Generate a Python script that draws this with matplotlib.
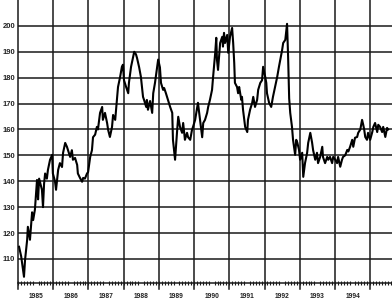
import numpy as np
import matplotlib
matplotlib.use('Agg')
import matplotlib.pyplot as plt

plt.rcParams['font.family'] = ['Liberation Sans', 'DejaVu Sans']

# decimal year / index level
years = [1985.03, 1985.09, 1985.17, 1985.20, 1985.26, 1985.28, 1985.34, 1985.40, 1985.43, 1985.48,
         1985.54, 1985.57, 1985.60, 1985.68, 1985.71, 1985.74, 1985.77, 1985.82, 1985.85, 1985.91,
         1985.97, 1985.99, 1986.05, 1986.08, 1986.14, 1986.19, 1986.25, 1986.28, 1986.34, 1986.39,
         1986.42, 1986.48, 1986.53, 1986.56, 1986.62, 1986.68, 1986.70, 1986.76, 1986.82, 1986.85,
         1986.90, 1986.96, 1986.99, 1987.05, 1987.10, 1987.13, 1987.19, 1987.24, 1987.27, 1987.33,
         1987.39, 1987.41, 1987.47, 1987.53, 1987.56, 1987.61, 1987.67, 1987.70, 1987.76, 1987.81,
         1987.84, 1987.90, 1987.95, 1987.98, 1988.01, 1988.07, 1988.13, 1988.15, 1988.21, 1988.27,
         1988.30, 1988.35, 1988.38, 1988.44, 1988.49, 1988.55, 1988.58, 1988.64, 1988.66, 1988.69,
         1988.75, 1988.81, 1988.84, 1988.89, 1988.95, 1988.98, 1989.03, 1989.06, 1989.12, 1989.15,
         1989.20, 1989.26, 1989.32, 1989.38, 1989.40, 1989.46, 1989.52, 1989.55, 1989.60, 1989.66,
         1989.69, 1989.74, 1989.80, 1989.83, 1989.89, 1989.94, 1989.97, 1990.03, 1990.09, 1990.11,
         1990.17, 1990.23, 1990.26, 1990.31, 1990.37, 1990.40, 1990.45, 1990.51, 1990.54, 1990.60,
         1990.63, 1990.65, 1990.68, 1990.74, 1990.80, 1990.82, 1990.85, 1990.88, 1990.94, 1990.97,
         1991.02, 1991.08, 1991.11, 1991.14, 1991.16, 1991.22, 1991.25, 1991.28, 1991.34, 1991.36,
         1991.39, 1991.45, 1991.51, 1991.53, 1991.59, 1991.65, 1991.68, 1991.73, 1991.79, 1991.82,
         1991.88, 1991.93, 1991.96, 1992.02, 1992.05, 1992.07, 1992.13, 1992.19, 1992.24, 1992.30,
         1992.36, 1992.41, 1992.50, 1992.53, 1992.59, 1992.64, 1992.67, 1992.70, 1992.73, 1992.78,
         1992.81, 1992.87, 1992.90, 1992.93, 1992.98, 1993.01, 1993.07, 1993.10, 1993.15, 1993.21,
         1993.24, 1993.30, 1993.35, 1993.38, 1993.44, 1993.49, 1993.52, 1993.58, 1993.64, 1993.66,
         1993.72, 1993.78, 1993.81, 1993.86, 1993.92, 1993.95, 1994.01, 1994.06, 1994.09, 1994.15,
         1994.20, 1994.23, 1994.29, 1994.35, 1994.38, 1994.43, 1994.49, 1994.52, 1994.57, 1994.63,
         1994.66, 1994.72, 1994.77, 1994.80, 1994.83, 1994.86, 1994.91, 1994.94, 1995.00, 1995.06,
         1995.09, 1995.14, 1995.20, 1995.23, 1995.28, 1995.34, 1995.37, 1995.43, 1995.48, 1995.51]

price = [114.7, 111.0, 103.1, 109.6, 117.4, 122.4, 117.4, 128.0, 125.0, 129.0,
         140.5, 133.0, 141.0, 136.7, 130.0, 139.0, 143.0, 141.0, 144.4, 148.3,
         150.2, 143.0, 140.0, 136.7, 144.4, 147.0, 145.5, 151.0, 154.8, 153.3,
         152.0, 149.4, 152.0, 148.3, 149.0, 146.3, 143.0, 141.3, 139.8, 141.3,
         141.0, 143.0, 143.5, 149.4, 152.0, 157.0, 158.0, 161.0, 160.0, 166.4,
         168.7, 163.7, 166.4, 162.5, 159.8, 157.1, 161.0, 165.6, 163.7, 171.4,
         176.4, 180.3, 184.2, 185.0, 179.0, 176.4, 174.0, 178.0, 184.2, 188.0,
         190.0, 189.0, 187.6, 184.0, 180.3, 172.6, 171.4, 168.7, 171.4, 167.6,
         171.0, 166.4, 174.0, 178.0, 184.2, 187.0, 184.0, 178.0, 175.3, 176.0,
         174.0, 171.4, 168.7, 166.4, 156.0, 148.3, 159.8, 164.9, 161.0, 158.7,
         162.5, 156.0, 158.7, 157.0, 156.0, 159.8, 161.0, 163.7, 168.7, 170.3,
         163.7, 157.0, 162.5, 163.7, 166.4, 168.7, 171.4, 175.3, 180.3, 189.6,
         195.4, 186.9, 183.0, 193.4, 195.8, 192.0, 197.3, 193.4, 196.5, 189.6,
         195.8, 199.2, 193.4, 185.7, 178.0, 176.4, 174.0, 176.4, 171.4, 172.6,
         167.6, 161.0, 159.0, 163.7, 167.6, 170.3, 172.6, 168.7, 171.4, 175.3,
         178.0, 179.0, 184.2, 180.3, 178.0, 174.0, 170.3, 168.7, 172.6, 176.4,
         180.3, 184.2, 190.7, 193.4, 194.6, 200.8, 188.0, 172.0, 166.4, 161.0,
         156.0, 150.2, 156.0, 155.0, 152.1, 148.3, 151.0, 141.7, 147.0, 151.0,
         154.8, 158.7, 155.0, 152.0, 148.3, 151.0, 147.0, 149.4, 153.3, 149.4,
         147.0, 149.4, 148.3, 149.4, 147.0, 149.4, 148.3, 147.0, 149.4, 145.6,
         148.3, 149.4, 150.0, 152.1, 151.5, 153.3, 156.0, 153.3, 156.8, 157.1,
         158.7, 160.0, 163.7, 162.0, 160.0, 157.1, 156.0, 158.7, 156.0, 159.0,
         161.0, 162.5, 159.0, 161.8, 161.0, 159.0, 161.0, 157.1, 160.6, 160.0]

year_labels = ['1985', '1986', '1987', '1988', '1989', '1990', '1991', '1992', '1993', '1994']
y_ticks = [110, 120, 130, 140, 150, 160, 170, 180, 190, 200]

fig = plt.figure(figsize=(3.92, 3.01), dpi=100)
ax = fig.add_axes([18 / 392, 18 / 301, 1 - 18 / 392, 1 - 18 / 301])

ax.plot(years, price, color='black', lw=1.5, zorder=3)

ax.set_xlim(1985.0, 1995.62)
ax.set_ylim(100.7, 210.0)

# horizontal grid
ax.set_yticks(y_ticks)
ax.set_yticklabels([str(v) for v in y_ticks], fontsize=5.5, fontweight='bold', color='#222222')
ax.tick_params(axis='y', length=0, pad=2)
ax.grid(axis='y', color='#1a1a1a', lw=1.1)

# year boundaries, running a bit below the axis line
for i in range(len(year_labels) + 1):
    ax.axvline(1985 + i, ymin=-0.02, ymax=1, color='#1a1a1a', lw=1.1, clip_on=False, zorder=2)

# year labels centred in each year, monthly minor ticks
mid_years = [1985.5 + i for i in range(len(year_labels))]
ax.set_xticks(mid_years)
ax.set_xticklabels(year_labels, fontsize=4.8, fontweight='bold', color='#222222')
ax.tick_params(axis='x', length=0, pad=7)
ax.set_xticks(np.arange(1985, 1995.62, 1 / 12), minor=True)
ax.tick_params(axis='x', which='minor', direction='inout', length=3, width=0.8, color='#1a1a1a')

for s in ['top', 'right', 'left']:
    ax.spines[s].set_visible(False)
ax.spines['bottom'].set_linewidth(1.1)
ax.spines['bottom'].set_color('#1a1a1a')

plt.savefig('out.png', dpi=100)
